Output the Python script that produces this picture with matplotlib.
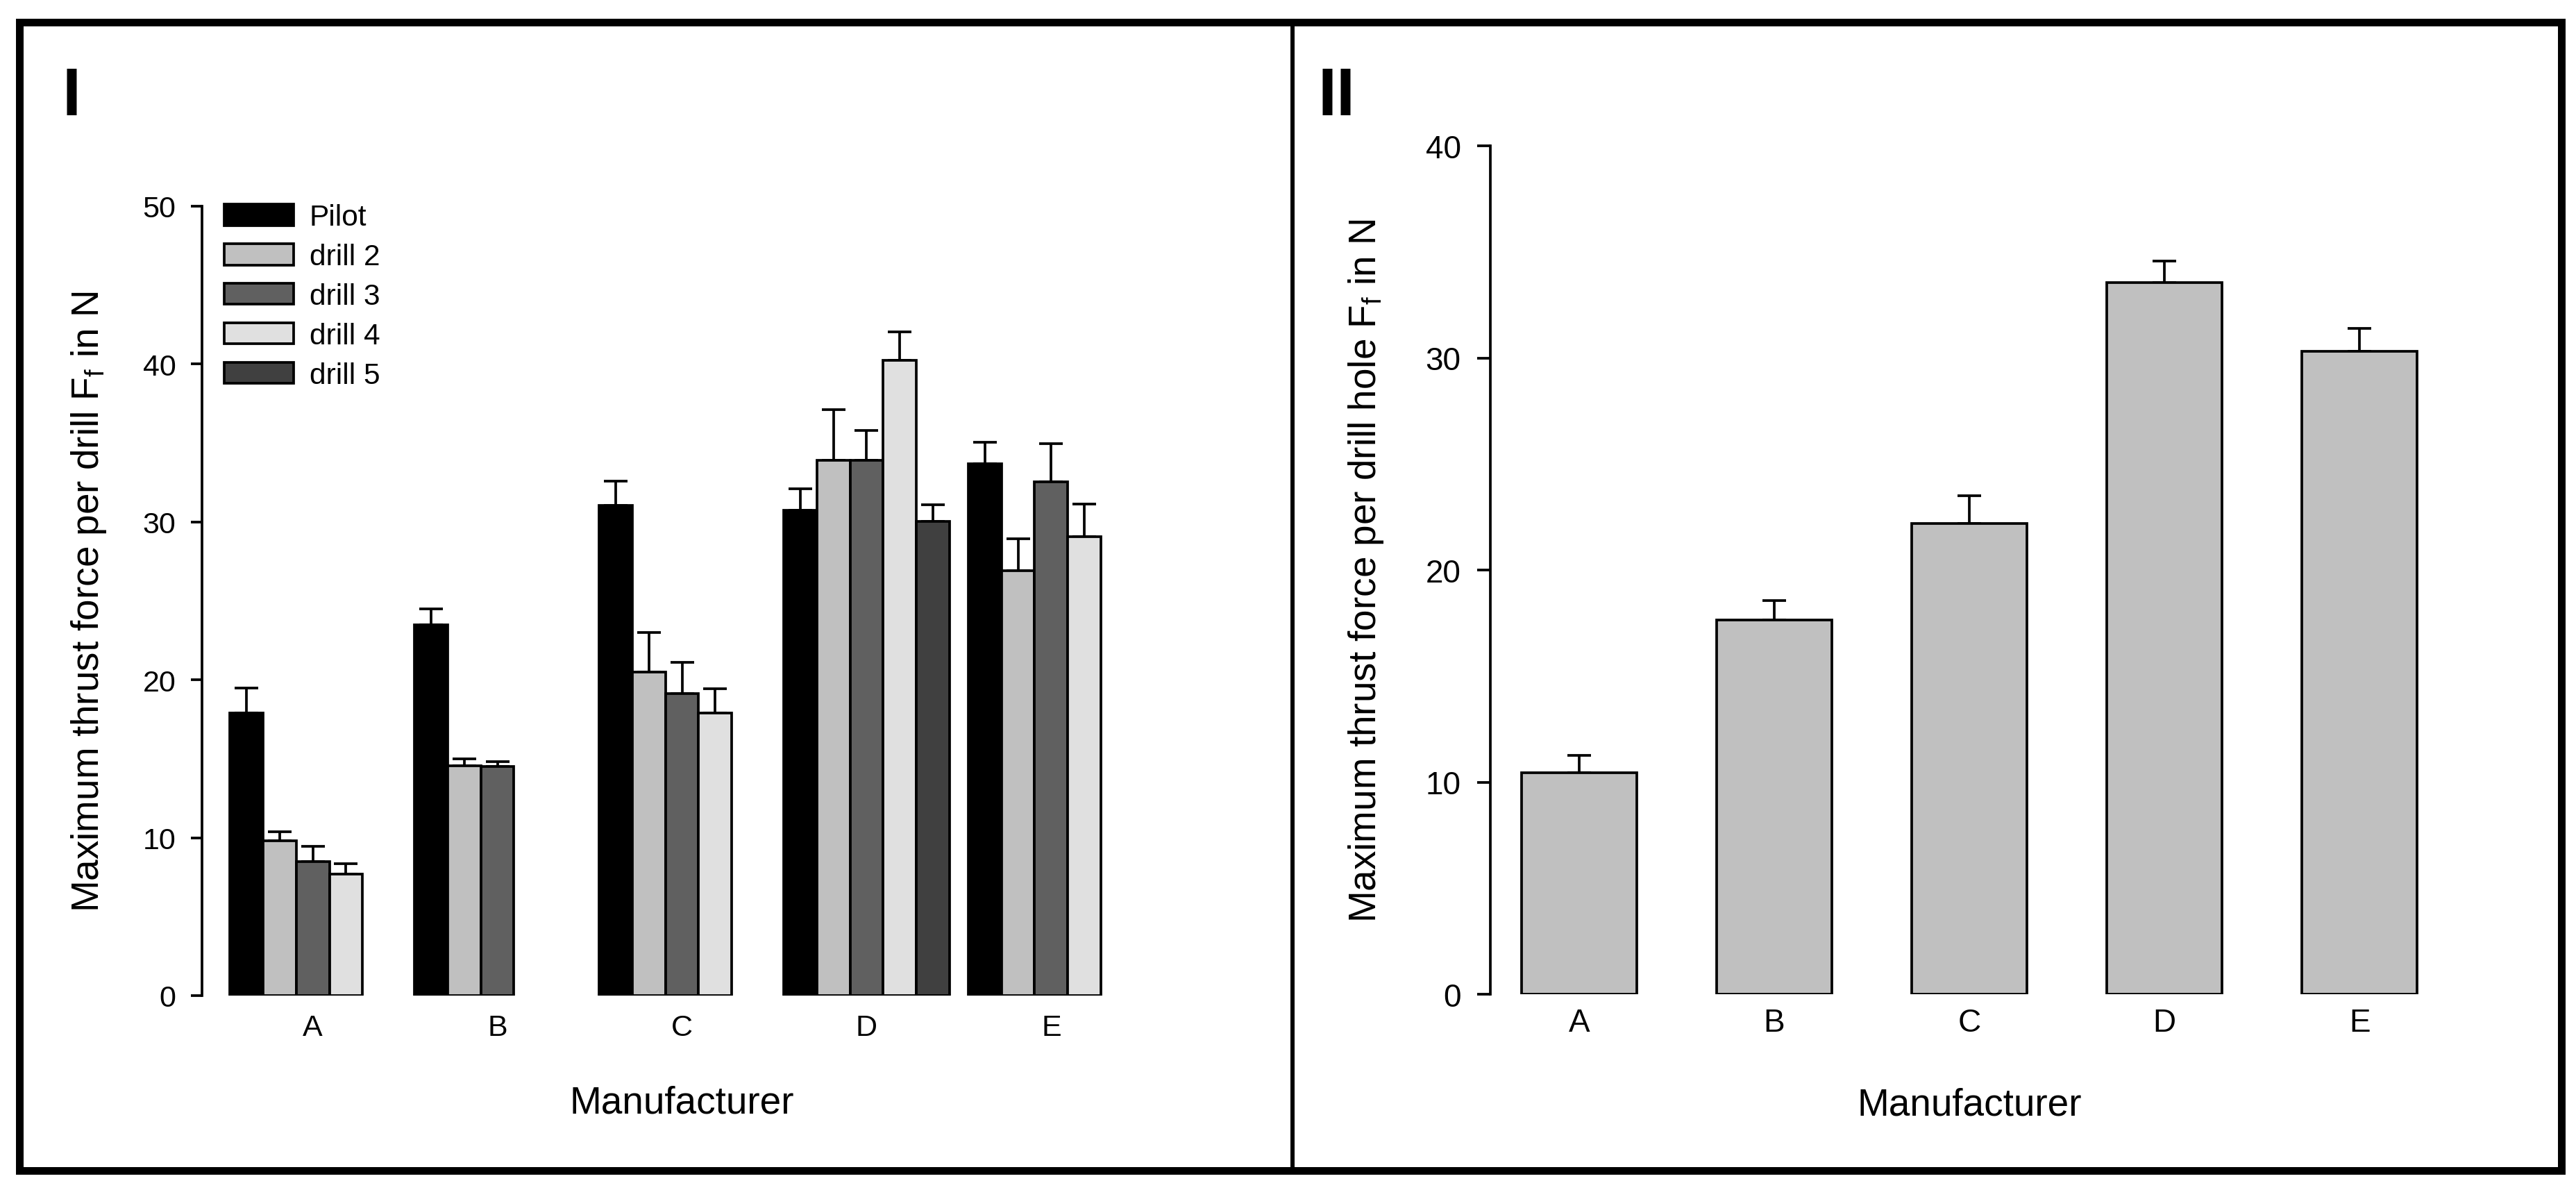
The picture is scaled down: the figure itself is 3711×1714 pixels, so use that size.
import numpy as np
import matplotlib
matplotlib.use("Agg")
import matplotlib.pyplot as plt
from matplotlib.patches import Rectangle
from matplotlib.lines import Line2D

plt.rcParams['font.family'] = ['Liberation Sans', 'DejaVu Sans']

# ---- data ----
manufacturers = ['A', 'B', 'C', 'D', 'E']
drill_names = ['Pilot', 'drill 2', 'drill 3', 'drill 4', 'drill 5']
drill_colors = ['#000000', '#c0c0c0', '#606060', '#e0e0e0', '#404040']

nan = np.nan
pilot = [17.9, 23.5, 31.05, 30.75, 33.7]
pilot_err = [1.6, 1.0, 1.55, 1.35, 1.35]
drill2 = [9.8, 14.55, 20.5, 33.9, 26.9]
drill2_err = [0.6, 0.45, 2.5, 3.2, 2.05]
drill3 = [8.5, 14.5, 19.15, 33.9, 32.55]
drill3_err = [0.95, 0.3, 1.95, 1.9, 2.4]
drill4 = [7.7, nan, 17.9, 40.25, 29.05]
drill4_err = [0.65, nan, 1.55, 1.8, 2.1]
drill5 = [nan, nan, nan, 30.05, nan]
drill5_err = [nan, nan, nan, 1.05, nan]

per_hole = [10.45, 17.65, 22.2, 33.55, 30.3]
per_hole_err = [0.8, 0.9, 1.3, 1.0, 1.1]

series = [pilot, drill2, drill3, drill4, drill5]
series_err = [pilot_err, drill2_err, drill3_err, drill4_err, drill5_err]

W, H = 3712, 1715
fig = plt.figure(figsize=(W / 100, H / 100), dpi=100)

lw = 2.7
lab_size = 39.5
ylab1 = 'Maximum thrust force per drill $\\mathregular{F_f}$ in N'
ylab2 = 'Maximum thrust force per drill hole $\\mathregular{F_f}$ in N'

# ---- panel I ----
ax1 = fig.add_axes([291 / W, 1 - 1435 / H, 1383 / W, 1137 / H])
x = np.arange(len(manufacturers))
bw = 0.18
for j, (vals, errs) in enumerate(zip(series, series_err)):
    vals = np.array(vals)
    errs = np.array(errs)
    pos = x + (j - 2) * bw
    ok = ~np.isnan(vals)
    ax1.bar(pos[ok], vals[ok], width=bw, color=drill_colors[j], edgecolor='black',
            linewidth=lw, label=drill_names[j], zorder=2)
    ax1.errorbar(pos[ok], vals[ok], yerr=[np.zeros(ok.sum()), errs[ok]], fmt='none',
                 ecolor='black', elinewidth=lw, capsize=12.5, capthick=lw, zorder=1)

ax1.set_xlim(-0.6, 4.6)
ax1.set_ylim(0, 50)
ax1.set_yticks([0, 10, 20, 30, 40, 50])
ax1.set_xticks(x)
ax1.set_xticklabels(manufacturers)
ax1.tick_params(axis='y', direction='out', length=11.5, width=lw, pad=15.5, labelsize=31)
ax1.tick_params(axis='x', length=0, pad=18.5, labelsize=31)
for s in ['top', 'right', 'bottom']:
    ax1.spines[s].set_visible(False)
ax1.spines['left'].set_linewidth(lw)
ax1.set_xlabel('Manufacturer', fontsize=lab_size)
ax1.xaxis.label.set_va('baseline')
ax1.xaxis.set_label_coords(0.5, -0.1486)
ax1.set_ylabel(ylab1, fontsize=lab_size)
ax1.yaxis.label.set_va('baseline')
ax1.yaxis.set_label_coords(-0.1077, 0.5)

ax1.legend(loc='upper left', bbox_to_anchor=(323 / W, 1 - 294 / H),
           bbox_transform=fig.transFigure, frameon=False, fontsize=30.5,
           borderpad=0, borderaxespad=0, handlelength=2.35, handleheight=0.74,
           handletextpad=0.55, labelspacing=0.4)

# ---- panel II ----
ax2 = fig.add_axes([2147 / W, 1 - 1433 / H, 1380 / W, 1222 / H])
ax2.bar(x, per_hole, width=0.59, color='#c0c0c0', edgecolor='black', linewidth=lw, zorder=2)
ax2.errorbar(x, per_hole, yerr=[np.zeros(len(x)), per_hole_err], fmt='none',
             ecolor='black', elinewidth=lw, capsize=12.5, capthick=lw, zorder=1)
ax2.set_xlim(-0.455, 4.455)
ax2.set_ylim(0, 40)
ax2.set_yticks([0, 10, 20, 30, 40])
ax2.set_xticks(x)
ax2.set_xticklabels(manufacturers)
ax2.tick_params(axis='y', direction='out', length=13.5, width=lw, pad=17, labelsize=33)
ax2.tick_params(axis='x', length=0, pad=13.5, labelsize=33)
for s in ['top', 'right', 'bottom']:
    ax2.spines[s].set_visible(False)
ax2.spines['left'].set_linewidth(lw)
ax2.set_xlabel('Manufacturer', fontsize=lab_size)
ax2.xaxis.label.set_va('baseline')
ax2.xaxis.set_label_coords(0.5, -0.1416)
ax2.set_ylabel(ylab2, fontsize=lab_size)
ax2.yaxis.label.set_va('baseline')
ax2.yaxis.set_label_coords(-0.1196, 0.5)

# ---- panel letters and frame ----
fig.text(90 / W, 1 - 166 / H, 'I', fontsize=70, fontweight='bold', va='baseline', ha='left')
fig.text(1899 / W, 1 - 166 / H, 'II', fontsize=70, fontweight='bold', va='baseline', ha='left')

fig.add_artist(Rectangle((28 / W, 1 - 1687 / H), (3690 - 28) / W, (1687 - 33) / H,
                         transform=fig.transFigure, fill=False, edgecolor='black',
                         linewidth=7.9, joinstyle='miter'))
fig.add_artist(Line2D([1862 / W, 1862 / W], [1 - 1687 / H, 1 - 33 / H],
                      transform=fig.transFigure, color='black', linewidth=4.3))

fig.savefig('out.png', dpi=100, facecolor='white')
